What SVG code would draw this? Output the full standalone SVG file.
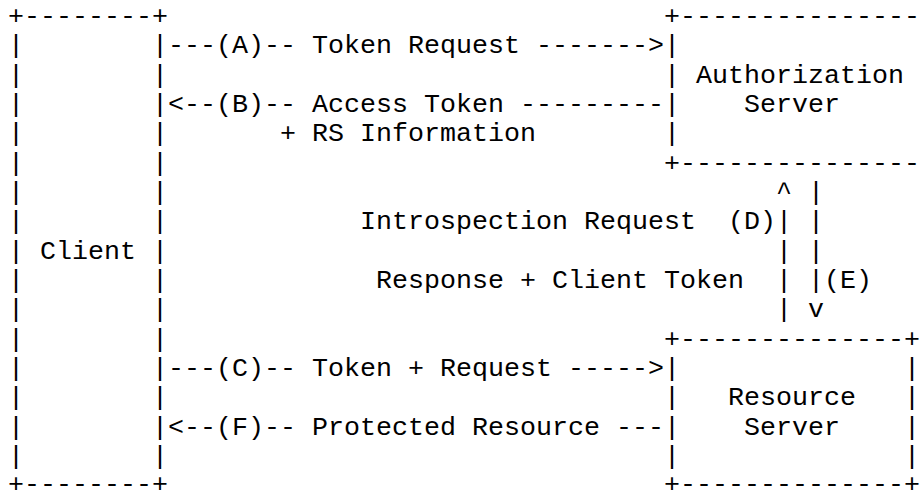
<svg xmlns="http://www.w3.org/2000/svg" width="923" height="490" viewBox="0 0 923 490">
<style>
text { font-family: "Liberation Mono", "DejaVu Sans Mono", monospace; font-size: 26.67px; fill: #000; white-space: pre; }
</style>
<rect width="923" height="490" fill="#fff"/>
<g id="client" xml:space="preserve">
<text x="8" y="24">+--------+</text>
<text x="8" y="53.33">|        |</text>
<text x="8" y="82.67">|        |</text>
<text x="8" y="112">|        |</text>
<text x="8" y="141.33">|        |</text>
<text x="8" y="170.67">|        |</text>
<text x="8" y="200">|        |</text>
<text x="8" y="229.33">|        |</text>
<text x="8" y="258.67">| Client |</text>
<text x="8" y="288">|        |</text>
<text x="8" y="317.33">|        |</text>
<text x="8" y="346.67">|        |</text>
<text x="8" y="376">|        |</text>
<text x="8" y="405.33">|        |</text>
<text x="8" y="434.67">|        |</text>
<text x="8" y="464">|        |</text>
<text x="8" y="492">+--------+</text>
</g>
<g id="authorization-server" xml:space="preserve">
<text x="664" y="24">+---------------</text>
<text x="664" y="53.33">|</text>
<text x="664" y="82.67">| Authorization</text>
<text x="664" y="112">|    Server</text>
<text x="664" y="141.33">|</text>
<text x="664" y="170.67">+---------------</text>
</g>
<g id="resource-server" xml:space="preserve">
<text x="664" y="346.67">+--------------+</text>
<text x="664" y="376">|              |</text>
<text x="664" y="405.33">|   Resource   |</text>
<text x="664" y="434.67">|    Server    |</text>
<text x="664" y="464">|              |</text>
<text x="664" y="492">+--------------+</text>
</g>
<g id="connectors" xml:space="preserve">
<text x="168" y="53.33">---(A)-- Token Request -------&gt;</text>
<text x="168" y="112">&lt;--(B)-- Access Token ---------</text>
<text x="280" y="141.33">+ RS Information</text>
<text x="776" y="200">^ |</text>
<text x="360" y="229.33">Introspection Request  (D)| |</text>
<text x="776" y="258.67">| |</text>
<text x="376" y="288">Response + Client Token  | |(E)</text>
<text x="776" y="317.33">| v</text>
<text x="168" y="376">---(C)-- Token + Request -----&gt;</text>
<text x="168" y="434.67">&lt;--(F)-- Protected Resource ---</text>
</g>
</svg>
